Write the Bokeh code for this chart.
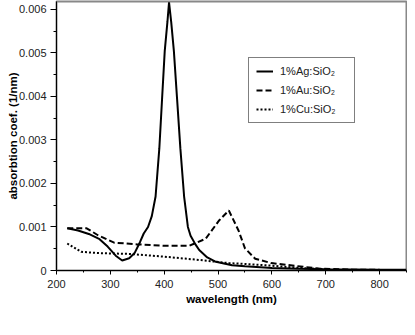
from bokeh.plotting import figure
from bokeh.models import Range1d, FixedTicker, CustomJSTickFormatter, Legend, LegendItem
from bokeh.embed import file_html
from bokeh.resources import INLINE

# Data
ag_wl = [220, 240, 260, 280, 295, 310, 322, 335, 345, 355, 362, 370, 377, 384, 391, 396,
         401, 406, 409, 413, 418, 424, 430, 437, 444, 449, 458, 465, 480, 496, 526, 550,
         600, 650, 700, 800, 850]
ag_val = [0.00097, 0.00092, 0.00084, 0.00072, 0.00055, 0.00034, 0.00023, 0.00028, 0.00040,
          0.00065, 0.00085, 0.00100, 0.00125, 0.00170, 0.00281, 0.00393, 0.00504, 0.00571,
          0.00616, 0.00571, 0.00504, 0.00393, 0.00281, 0.00170, 0.00100, 0.00080, 0.00060,
          0.00047, 0.00030, 0.00020, 0.00012, 0.00010, 0.00006, 0.00004, 0.00003, 0.00002,
          0.00002]

au_wl = [220, 256, 277, 307, 350, 398, 447, 477, 502, 520, 538, 550, 569, 599, 648, 690,
         750, 800]
au_val = [0.00097, 0.00097, 0.00081, 0.00064, 0.00060, 0.00057, 0.00057, 0.00073, 0.00115,
          0.00138, 0.00092, 0.00051, 0.00027, 0.00017, 0.00010, 0.00004, 0.00002, 0.00002]

cu_wl = [220, 246, 277, 337, 398, 459, 520, 550, 600, 650, 700]
cu_val = [0.00062, 0.00043, 0.00040, 0.00038, 0.00032, 0.00025, 0.00017, 0.00015, 0.00011,
          0.00006, 0.00003]

labels = ["1%Ag:SiO\u2082", "1%Au:SiO\u2082", "1%Cu:SiO\u2082"]
x_ticks = [200, 300, 400, 500, 600, 700, 800]
x_minor = [250, 350, 450, 550, 650, 750, 850]
y_ticks = [0, 0.001, 0.002, 0.003, 0.004, 0.005, 0.006]
y_minor = [0.0005, 0.0015, 0.0025, 0.0035, 0.0045, 0.0055]

FONT = "Liberation Sans"

p = figure(width=407, height=327, output_backend="svg", toolbar_location=None,
           x_range=Range1d(200, 850), y_range=Range1d(0, 0.00618),
           min_border_left=56, min_border_right=1, min_border_top=1, min_border_bottom=57)
p.background_fill_color = "white"
p.border_fill_color = "white"
p.grid.visible = False
p.outline_line_color = "#888888"
p.outline_line_width = 2

r_ag = p.line(ag_wl, ag_val, line_color="black", line_width=2)
r_au = p.line(au_wl, au_val, line_color="black", line_width=2, line_dash="6 3")
r_cu = p.line(cu_wl, cu_val, line_color="black", line_width=2, line_dash="2 2")

xa = p.xaxis[0]
xa.ticker = FixedTicker(ticks=x_ticks, minor_ticks=x_minor)
xa.axis_label = "wavelength (nm)"
ya = p.yaxis[0]
ya.ticker = FixedTicker(ticks=y_ticks, minor_ticks=y_minor)
ya.formatter = CustomJSTickFormatter(code="return tick == 0 ? '0' : tick.toFixed(3);")
ya.axis_label = "absorbtion coef. (1/nm)"

for ax in (xa, ya):
    ax.axis_line_color = "black"
    ax.axis_line_width = 1
    ax.major_tick_line_color = "black"
    ax.minor_tick_line_color = "black"
    ax.major_tick_in = 0
    ax.minor_tick_in = 0
    ax.major_label_text_font = FONT
    ax.major_label_text_font_size = "11px"
    ax.major_label_text_color = "#222222"
    ax.axis_label_text_font = FONT
    ax.axis_label_text_font_size = "11.5px"
    ax.axis_label_text_font_style = "bold"
    ax.axis_label_text_color = "black"

xa.major_tick_out = 4
xa.minor_tick_out = 2
xa.major_label_standoff = 5
xa.axis_label_standoff = 2
ya.major_tick_out = 6
ya.minor_tick_out = 3
ya.major_label_standoff = 4
ya.axis_label_standoff = -3

legend = Legend(items=[LegendItem(label=labels[0], renderers=[r_ag]),
                       LegendItem(label=labels[1], renderers=[r_au]),
                       LegendItem(label=labels[2], renderers=[r_cu])],
                location=(192, 147))
legend.border_line_color = "black"
legend.border_line_width = 1
legend.background_fill_color = "white"
legend.background_fill_alpha = 1
legend.padding = 7
legend.spacing = 7
legend.margin = 0
legend.glyph_width = 17
legend.glyph_height = 12
legend.label_height = 12
legend.label_width = 67
legend.label_standoff = 7
legend.label_text_font = FONT
legend.label_text_font_size = "11px"
legend.label_text_color = "#222222"
p.add_layout(legend, "center")

open("out.html", "w").write(file_html(p, INLINE))
